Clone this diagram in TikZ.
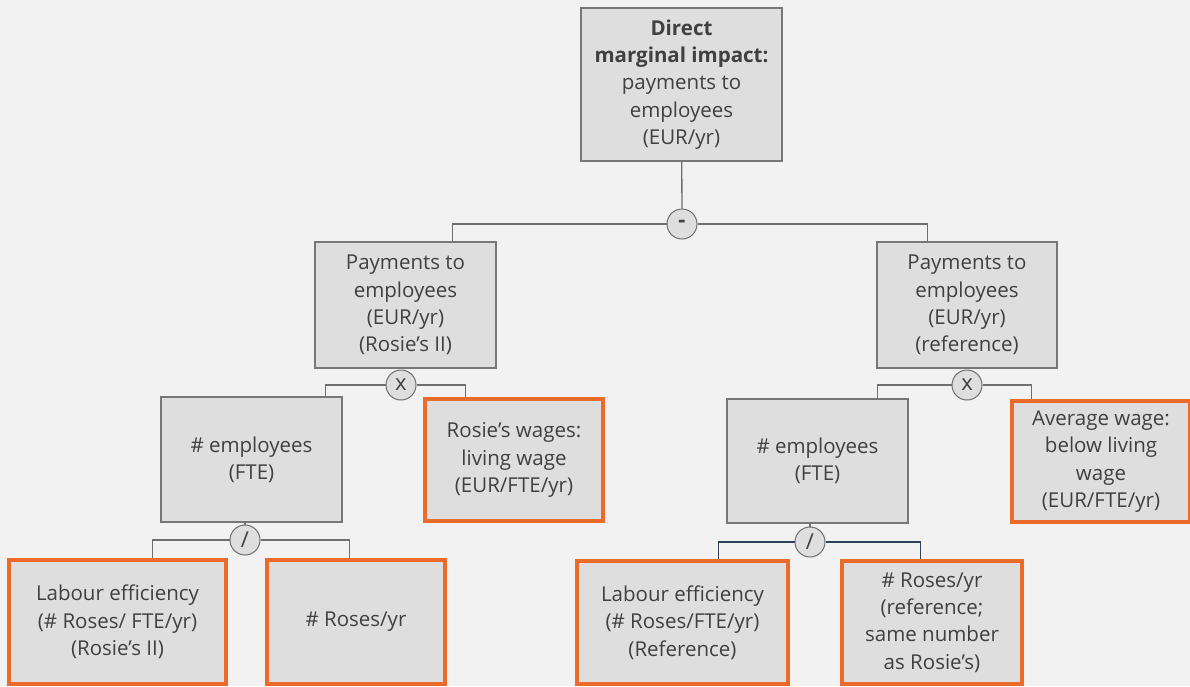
\documentclass[tikz,border=0pt]{standalone}
\usepackage{fontspec}
\setmainfont{Open Sans}
\usetikzlibrary{calc}
\definecolor{bg}{HTML}{F2F2F2}
\definecolor{boxfill}{HTML}{DEDEDE}
\definecolor{boxline}{HTML}{777777}
\definecolor{orangeline}{HTML}{EC6A2A}
\definecolor{txt}{HTML}{404040}
\definecolor{wire}{HTML}{6F6F6F}
\definecolor{bluewire}{HTML}{2F4257}
\begin{document}
\begin{tikzpicture}[x=1pt,y=-1pt,
  every node/.style={font=\fontsize{20.5}{27.3}\selectfont, text=txt, align=center, inner sep=0pt},
  block/.style={draw=boxline, line width=1.4pt, fill=boxfill},
  input/.style={draw=orangeline, line width=3.6pt, fill=boxfill},
  op/.style={circle, draw=wire, line width=1pt, fill=boxfill, minimum size=30pt,
             font=\fontsize{22}{22}\selectfont},
  wire/.style={draw=wire, line width=1.3pt},
  bluewire/.style={draw=bluewire, line width=1.3pt}]
\useasboundingbox (0,0) rectangle (1190,686);
\fill[bg] (0,0) rectangle (1190,686);
\clip (0,0) rectangle (1190,686);

% result
\node[block, minimum width=201pt, minimum height=153pt] (top) at (681.5,84.5)
  {\textbf{Direct}\\\textbf{marginal impact:}\\payments to\\employees\\(EUR/yr)};

% second level
\node[block, minimum width=181pt, minimum height=126pt] (midL) at (405.5,305)
  {Payments to\\employees\\(EUR/yr)\\(Rosie’s II)};
\node[block, minimum width=180pt, minimum height=126pt] (midR) at (967,305)
  {Payments to\\employees\\(EUR/yr)\\(reference)};

% third level
\node[block, minimum width=181pt, minimum height=125pt] (empL) at (251.5,459.5)
  {\# employees\\(FTE)};
\node[input, minimum width=178pt, minimum height=122pt] (wageL) at (514,460)
  {Rosie’s wages:\\living wage\\(EUR/FTE/yr)};
\node[block, minimum width=181pt, minimum height=124pt] (empR) at (817.5,461)
  {\# employees\\(FTE)};
\node[input, minimum width=178pt, minimum height=121pt] (wageR) at (1101,461.5)
  {Average wage:\\below living\\wage\\(EUR/FTE/yr)};

% bottom level
\node[input, minimum width=217pt, minimum height=124pt] (labL) at (117.5,622)
  {Labour efficiency\\(\# Roses/ FTE/yr)\\(Rosie’s II)};
\node[input, minimum width=178pt, minimum height=124pt] (rosesL) at (356,622)
  {\# Roses/yr};
\node[input, minimum width=211pt, minimum height=123pt] (labR) at (682.5,622.5)
  {Labour efficiency\\(\# Roses/FTE/yr)\\(Reference)};
\node[input, minimum width=180pt, minimum height=123pt] (rosesR) at (932,622.5)
  {\# Roses/yr\\(reference;\\same number\\as Rosie’s)};

% operators
\node[op] (minus) at (682,224) {\textbf{-}};
\node[op] (timesL) at (401,385) {x};
\node[op] (timesR) at (967,385) {x};
\node[op] (divL) at (245,540) {/};
\node[op] (divR) at (810,542) {/};

% connectors
\draw[wire] (top) -- (minus);
\draw[wire] (minus.west) -| ($(midL.north west)+(138,0)$);
\draw[wire] (minus.east) -| ($(midR.north west)+(51,0)$);

\draw[wire] (timesL.west) -| ($(empL.north west)+(165,0)$);
\draw[wire] (timesL.east) -| ($(wageL.north west)+(42,0)$);
\draw[wire] (timesR.west) -| ($(empR.north west)+(151,0)$);
\draw[wire] (timesR.east) -| ($(wageR.north west)+(21,0)$);

\draw[wire] (empL.south -| divL) -- (divL.north);
\draw[wire] (divL.west) -| ($(labL.north west)+(145,0)$);
\draw[wire] (divL.east) -| ($(rosesL.north west)+(84,0)$);
\draw[wire] (empR.south -| divR) -- (divR.north);
\draw[bluewire] (divR.west) -| ($(labR.north west)+(143,0)$);
\draw[bluewire] (divR.east) -| ($(rosesR.north west)+(80,0)$);
\end{tikzpicture}
\end{document}
